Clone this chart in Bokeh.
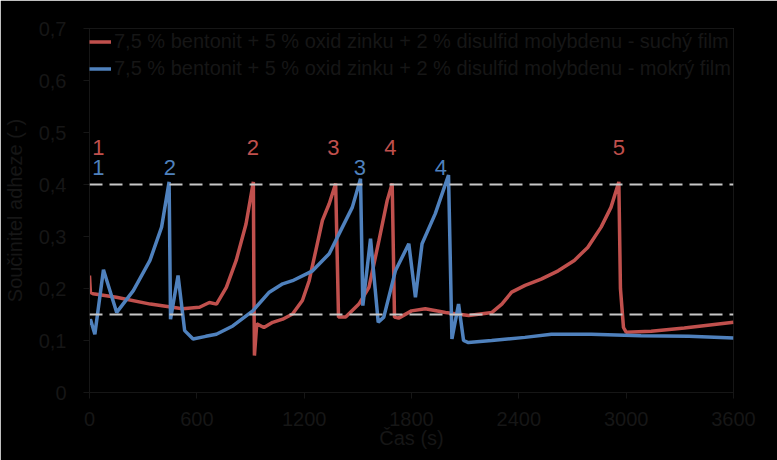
from bokeh.plotting import figure
from bokeh.models import Range1d, FixedTicker, Legend, LegendItem, Span, ColumnDataSource
from bokeh.core.properties import value
from bokeh.embed import file_html
from bokeh.resources import INLINE

# ---- data ----
red_t = [0, 5, 20, 150, 340, 520, 615, 670, 710, 765, 820, 875, 916, 919, 922, 935, 975, 1024, 1080,
         1135, 1190, 1228, 1265, 1302, 1340, 1376, 1392, 1432, 1506, 1562, 1618, 1664, 1692, 1705,
         1728, 1800, 1877, 1990, 2120, 2250, 2305, 2360, 2435, 2525, 2620, 2710, 2785, 2860, 2915,
         2959, 2968, 2985, 3000, 3140, 3325, 3600]
red_v = [0.225, 0.193, 0.190, 0.183, 0.170, 0.161, 0.164, 0.173, 0.170, 0.202, 0.254, 0.324, 0.405,
         0.200, 0.071, 0.132, 0.125, 0.135, 0.141,
         0.151, 0.177, 0.215, 0.273, 0.331, 0.363, 0.402, 0.145, 0.145, 0.170, 0.202, 0.292, 0.369,
         0.402, 0.145, 0.143, 0.157, 0.161, 0.154, 0.148, 0.154, 0.170, 0.193, 0.206, 0.218, 0.234,
         0.254, 0.279, 0.318, 0.356, 0.405, 0.200, 0.125, 0.116, 0.118, 0.124, 0.135]

blue_t = [0, 5, 30, 78, 152, 245, 338, 403, 445, 453, 495, 532, 579, 650, 709, 801, 913, 1005, 1080,
          1135, 1247, 1340, 1395, 1469, 1515, 1528, 1571, 1614, 1645, 1710, 1785, 1822, 1859, 1933,
          2007, 2026, 2063, 2091, 2118, 2248, 2434, 2582, 2805, 3083, 3350, 3600]
blue_v = [0.130, 0.141, 0.112, 0.236, 0.154, 0.196, 0.254, 0.318, 0.405, 0.141, 0.225, 0.119, 0.103,
          0.108, 0.112, 0.128, 0.157, 0.193, 0.209,
          0.215, 0.234, 0.267, 0.305, 0.356, 0.411, 0.167, 0.296, 0.135, 0.145, 0.234, 0.286, 0.183,
          0.286, 0.344, 0.418, 0.103, 0.170, 0.100, 0.096, 0.100, 0.106, 0.112, 0.112, 0.109, 0.108,
          0.105]

red_lab_t = [50, 913, 1363, 1682, 2959]
red_lab_v = [0.472, 0.472, 0.472, 0.472, 0.472]
red_lab = ["1", "2", "3", "4", "5"]
blue_lab_t = [50, 449, 1512, 1964]
blue_lab_v = [0.432, 0.432, 0.432, 0.432]
blue_lab = ["1", "2", "3", "4"]

thresholds = [0.4, 0.15]

x_ticks = [0, 600, 1200, 1800, 2400, 3000, 3600]
y_ticks = [0, 0.1, 0.2, 0.3, 0.4, 0.5, 0.6, 0.7]
y_tick_labels = ["0", "0,1", "0,2", "0,3", "0,4", "0,5", "0,6", "0,7"]

red_name = "7,5 % bentonit + 5 % oxid zinku + 2 % disulfid molybdenu - suchý film"
blue_name = "7,5 % bentonit + 5 % oxid zinku + 2 % disulfid molybdenu - mokrý film"
x_title = "Čas (s)"
y_title = "Součinitel adheze (-)"

# ---- styling ----
RED = "#c0504d"
BLUE = "#4f81bd"
TXT = "#161616"
FONT = "Liberation Sans"

p = figure(width=777, height=460, output_backend="svg", toolbar_location=None,
           x_range=Range1d(0, 3600), y_range=Range1d(0, 0.7),
           min_border_left=86, min_border_right=44, min_border_top=28, min_border_bottom=68)
p.background_fill_color = "black"
p.border_fill_color = "black"
p.outline_line_color = TXT
p.outline_line_width = 1
p.xgrid.visible = False
p.ygrid.visible = False

for thr in thresholds:
    p.add_layout(Span(location=thr, dimension="width", line_color="#c8c8c8",
                      line_width=2, line_dash="13 7"))

r_red = p.line(red_t, red_v, line_color=RED, line_width=3.5)
r_blue = p.line(blue_t, blue_v, line_color=BLUE, line_width=3.5)

src_r = ColumnDataSource(dict(x=red_lab_t, y=red_lab_v, t=red_lab))
src_b = ColumnDataSource(dict(x=blue_lab_t, y=blue_lab_v, t=blue_lab))
p.text(x="x", y="y", text="t", source=src_r, text_color=RED, text_font=value(FONT),
       text_font_size="22px", text_align="center", text_baseline="middle")
p.text(x="x", y="y", text="t", source=src_b, text_color=BLUE, text_font=value(FONT),
       text_font_size="22px", text_align="center", text_baseline="middle")

# axes
p.xaxis.ticker = FixedTicker(ticks=x_ticks)
p.yaxis.ticker = FixedTicker(ticks=y_ticks)
p.yaxis.major_label_overrides = {t: l for t, l in zip(y_ticks, y_tick_labels)}
for ax in (p.xaxis[0], p.yaxis[0]):
    ax.axis_line_color = TXT
    ax.major_tick_line_color = TXT
    ax.major_tick_out = 6
    ax.major_tick_in = 0
    ax.minor_tick_line_color = None
    ax.major_label_text_color = TXT
    ax.major_label_text_font = FONT
    ax.major_label_text_font_size = "20px"
    ax.axis_label_text_color = TXT
    ax.axis_label_text_font = FONT
    ax.axis_label_text_font_size = "20px"
    ax.axis_label_text_font_style = "normal"
p.xaxis.axis_label = x_title
p.yaxis.axis_label = y_title
p.xaxis.major_label_standoff = 13
p.yaxis.major_label_standoff = 17
p.xaxis.axis_label_standoff = -2
p.yaxis.axis_label_standoff = 10

legend = Legend(items=[LegendItem(label=red_name, renderers=[r_red]),
                       LegendItem(label=blue_name, renderers=[r_blue])],
                location="top_left")
legend.background_fill_alpha = 0
legend.border_line_color = None
legend.margin = 0
legend.padding = 4
legend.spacing = 0
legend.glyph_width = 22
legend.glyph_height = 27
legend.label_height = 27
legend.label_standoff = 3
legend.label_text_color = TXT
legend.label_text_font = FONT
legend.label_text_font_size = "20px"
p.add_layout(legend)

open("out.html", "w").write(file_html(p, INLINE))
